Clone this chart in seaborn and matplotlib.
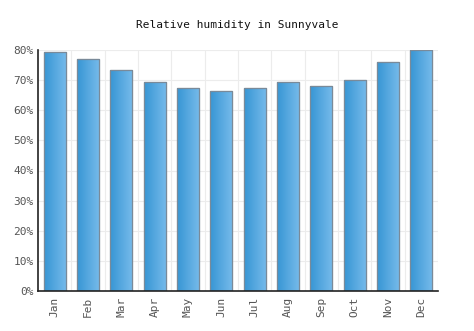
import numpy as np
import pandas as pd
import matplotlib
matplotlib.use("Agg")
import matplotlib.pyplot as plt
import seaborn as sns
from matplotlib.colors import LinearSegmentedColormap

months = ["Jan", "Feb", "Mar", "Apr", "May", "Jun", "Jul", "Aug", "Sep", "Oct", "Nov", "Dec"]
humidity = [79.5, 77, 73.5, 69.5, 67.5, 66.5, 67.5, 69.5, 68, 70, 76, 80]
yticks = [0, 10, 20, 30, 40, 50, 60, 70, 80]
ytick_labels = ["0%", "10%", "20%", "30%", "40%", "50%", "60%", "70%", "80%"]
title = "Relative humidity in Sunnyvale"

sns.set_theme(style="white")
plt.rcParams['font.family'] = ['DejaVu Sans Mono', 'DejaVu Sans']

df = pd.DataFrame({"month": months, "humidity": humidity})

fig = plt.figure(figsize=(4.74, 3.31), dpi=100)
ax = fig.add_axes([38/474, 1-291/331, 400/474, 241/331])

sns.barplot(data=df, x="month", y="humidity", ax=ax, color="#4aa3de",
            width=0.66, edgecolor="#7a8a99", linewidth=0.8, saturation=1)

cmap = LinearSegmentedColormap.from_list("g", ["#3796d4", "#74b9ea"])
grad = np.linspace(0, 1, 64).reshape(1, -1)
for p in ax.patches:
    x0, y0 = p.get_x(), p.get_y()
    w, h = p.get_width(), p.get_height()
    im = ax.imshow(grad, cmap=cmap, aspect="auto", extent=[x0, x0 + w, y0, y0 + h],
                   zorder=p.get_zorder() + 0.1, interpolation="bilinear")
    im.set_clip_path(p)
    edge = plt.Rectangle((x0, y0), w, h, fill=False, edgecolor="#7a8a99",
                         linewidth=0.9, zorder=p.get_zorder() + 0.2)
    ax.add_patch(edge)

ax.set_xlim(-0.5, 11.5)
ax.set_ylim(0, 80)
ax.set_yticks(yticks)
ax.set_yticklabels(ytick_labels)
ax.set_xlabel("")
ax.set_ylabel("")
ax.set_xticks(range(len(months)))
ax.set_xticklabels(months, rotation=90)

# grid
for yv in yticks[1:]:
    ax.axhline(yv, color="#ececec", linewidth=0.8, zorder=0)
for xv in np.arange(0.5, 11.5, 1):
    ax.axvline(xv, color="#ececec", linewidth=0.8, zorder=0)
ax.axvline(11.5, color="#ececec", linewidth=0.8, zorder=0)

for s in ["top", "right"]:
    ax.spines[s].set_visible(False)
for s in ["left", "bottom"]:
    ax.spines[s].set_color("#222222")
    ax.spines[s].set_linewidth(1.2)

ax.tick_params(axis="both", length=0, labelsize=8, colors="#555555", pad=4)
ax.tick_params(axis="y", pad=3)

fig.text(237/474, 1-25/331, title, ha="center", va="center", fontsize=8, color="#111111")

fig.savefig("out.png", dpi=100)
